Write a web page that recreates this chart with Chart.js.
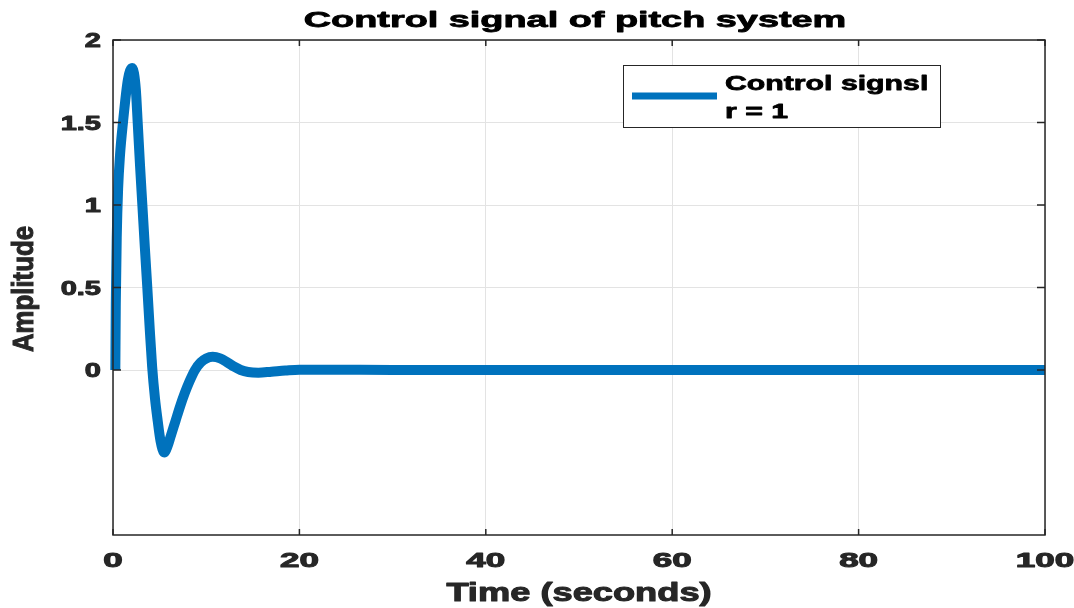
<!DOCTYPE html>
<html>
<head>
<meta charset="utf-8">
<script src="https://cdn.jsdelivr.net/npm/chart.js@4/dist/chart.umd.min.js"></script>
<style>
  html, body { margin: 0; padding: 0; background: #fff; }
  #wrap { width: 1074px; height: 608px; }
</style>
</head>
<body>
<div id="wrap"><canvas id="chart-signal"></canvas></div>
<script>
// ── Data ──────────────────────────────────────────
const TIME   = [0.25, 0.3, 0.4, 0.55, 0.75, 1.07, 1.6, 2.05, 2.25, 2.45, 2.65, 2.9, 3.15, 3.42, 3.68, 3.94, 4.2, 4.5, 4.8, 5.1, 5.5,
                5.8, 6.2, 6.7, 7.2, 7.7, 8.2, 8.8, 9.4, 10.0, 10.7, 11.5, 12.3, 13.0, 13.7, 14.5, 15.6, 17, 18.5, 20, 23, 30, 100];
const SIGNAL = [0, 0.4, 0.8, 1.1, 1.3, 1.5, 1.76, 1.83, 1.8, 1.7, 1.5, 1.24, 1.0, 0.74, 0.5, 0.25, 0.02, -0.17, -0.31, -0.43, -0.5,
                -0.47, -0.4, -0.31, -0.22, -0.14, -0.07, 0.0, 0.045, 0.07, 0.08, 0.07, 0.045, 0.02, 0.0, -0.012, -0.016, -0.01, -0.003, 0.002, 0.002, 0, 0];
const X_TICKS = [0, 20, 40, 60, 80, 100];
const Y_TICKS = [0, 0.5, 1, 1.5, 2];
const LEGEND_LINES = ['Control signsl', 'r = 1'];

const TITLE  = 'Control signal of pitch system';
const XTITLE = 'Time (seconds)';
const YTITLE = 'Amplitude';

const BLUE = '#0072bd';
const INK  = '#262626';
const FONT = '"Liberation Sans", Arial, sans-serif';

// draw text stretched like the exported figure, with a thin stroke to make it heavier
function stretchText(c, text, x, y, size, sx, align, heavy) {
  c.save();
  c.font = 'bold ' + size + 'px ' + FONT;
  const w = c.measureText(text).width * sx;
  let left = x;
  if (align === 'center') left = x - w / 2;
  if (align === 'right')  left = x - w;
  c.translate(left, y);
  c.scale(sx, 1);
  c.textAlign = 'left';
  c.textBaseline = 'alphabetic';
  if (heavy) {
    c.strokeStyle = c.fillStyle;
    c.lineWidth = heavy;
    c.lineJoin = 'round';
    c.strokeText(text, 0, 0);
  }
  c.fillText(text, 0, 0);
  c.restore();
}

const decorations = {
  id: 'decorations',
  afterDraw(chart) {
    const c = chart.ctx;
    const a = chart.chartArea;
    const xs = chart.scales.x, ys = chart.scales.y;

    // axes box
    c.save();
    c.strokeStyle = INK;
    c.lineWidth = 1.5;
    c.strokeRect(a.left, a.top, a.right - a.left, a.bottom - a.top);

    // inner tick marks
    c.beginPath();
    X_TICKS.forEach(v => {
      const px = xs.getPixelForValue(v);
      c.moveTo(px, a.bottom); c.lineTo(px, a.bottom - 6);
      c.moveTo(px, a.top);    c.lineTo(px, a.top + 6);
    });
    Y_TICKS.forEach(v => {
      const py = ys.getPixelForValue(v);
      c.moveTo(a.left, py);  c.lineTo(a.left + 8, py);
      c.moveTo(a.right, py); c.lineTo(a.right - 8, py);
    });
    c.stroke();

    // tick labels
    c.fillStyle = INK;
    X_TICKS.forEach(v => {
      stretchText(c, String(v), xs.getPixelForValue(v), a.bottom + 32, 20, 1.75, 'center', 1);
    });
    Y_TICKS.forEach(v => {
      stretchText(c, String(v), a.left - 12, ys.getPixelForValue(v) + 7, 20, 1.45, 'right', 1);
    });

    // titles
    c.fillStyle = '#000';
    stretchText(c, TITLE, (a.left + a.right) / 2 - 4, 27, 22, 1.72, 'center', 0.8);
    c.fillStyle = INK;
    stretchText(c, XTITLE, (a.left + a.right) / 2, 601, 25, 1.45, 'center', 1);

    c.save();
    c.translate(33, 289);
    c.rotate(-Math.PI / 2);
    c.font = 'bold 20px ' + FONT;
    const w = c.measureText(YTITLE).width;
    c.scale(126 / w, 1.47);
    c.textBaseline = 'alphabetic';
    c.textAlign = 'center';
    c.strokeStyle = INK;
    c.lineWidth = 0.7;
    c.strokeText(YTITLE, 0, 0);
    c.fillText(YTITLE, 0, 0);
    c.restore();

    // legend
    const ds = chart.data.datasets[0];
    c.fillStyle = '#fff';
    c.fillRect(623, 65, 317, 62);
    c.strokeStyle = INK;
    c.lineWidth = 1;
    c.strokeRect(623.5, 65.5, 317, 62);
    c.strokeStyle = ds.borderColor;
    c.lineWidth = 7;
    c.beginPath();
    c.moveTo(632, 96); c.lineTo(717, 96);
    c.stroke();
    c.fillStyle = '#000';
    LEGEND_LINES.forEach((t, i) => {
      stretchText(c, t, 725, 90 + i * 28, 21, 1.44, 'left', 0.8);
    });
    c.restore();
  },
};

new Chart(document.getElementById('chart-signal').getContext('2d'), {
  type: 'line',
  data: {
    datasets: [{
      label: LEGEND_LINES.join(' '),
      data: TIME.map((t, i) => ({ x: t, y: SIGNAL[i] })),
      borderColor: BLUE,
      borderWidth: 10,
      borderCapStyle: 'butt',
      borderJoinStyle: 'round',
      pointRadius: 0,
      cubicInterpolationMode: 'monotone',
      fill: false,
      clip: false,
    }],
  },
  options: {
    responsive: true,
    maintainAspectRatio: false,
    animation: false,
    layout: { padding: { left: 113, right: 29, top: 40, bottom: 73 } },
    plugins: {
      legend: { display: false },
      tooltip: { enabled: false },
    },
    scales: {
      x: {
        type: 'linear', min: 0, max: 100,
        afterBuildTicks: axis => { axis.ticks = X_TICKS.map(v => ({ value: v })); },
        ticks: { display: false },
        grid:  { color: '#e3e3e3', lineWidth: 1, drawTicks: false },
        border: { display: false },
      },
      y: {
        type: 'linear', min: -1, max: 2,
        afterBuildTicks: axis => { axis.ticks = Y_TICKS.map(v => ({ value: v })); },
        ticks: { display: false },
        grid:  { color: '#e3e3e3', lineWidth: 1, drawTicks: false },
        border: { display: false },
      },
    },
  },
  plugins: [decorations],
});
</script>
</body>
</html>
